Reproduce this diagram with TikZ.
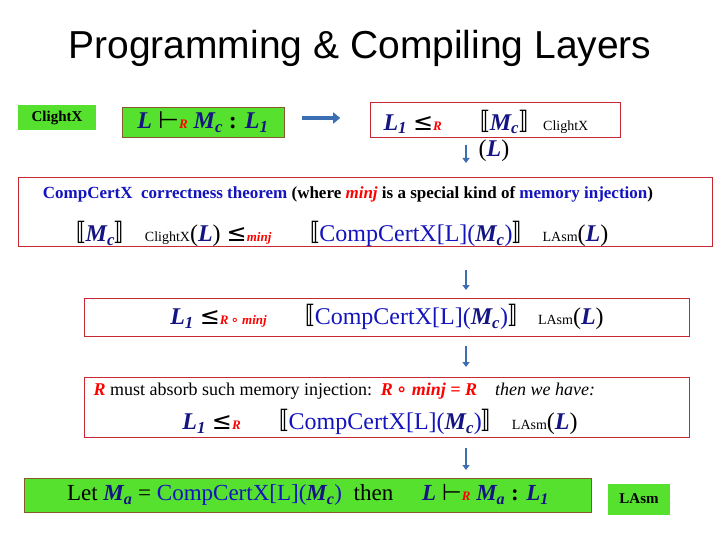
\documentclass[tikz,border=0pt]{standalone}
\usepackage{fontspec}
\setmainfont{Liberation Serif}
\newfontfamily\titlefont{Liberation Sans}
\newfontfamily\symfont{DejaVu Sans}
\newfontfamily\cjk{Noto Sans CJK SC}
\usetikzlibrary{positioning,arrows.meta}
\definecolor{navy}{RGB}{20,20,130}
\definecolor{ccblue}{RGB}{20,20,190}
\definecolor{boxred}{RGB}{200,40,50}
\definecolor{lgreen}{RGB}{85,225,45}
\definecolor{arrblue}{RGB}{60,110,180}
\newcommand{\mv}[1]{\textcolor{navy}{\textbf{\textit{#1}}}}
\newcommand{\rv}[1]{\textcolor{red}{\textbf{\textit{#1}}}}
\newcommand{\lb}{{\cjk 〚}}
\newcommand{\rb}{{\cjk 〛}}
\newcommand{\turn}{{\symfont ⊢}}
\newcommand{\leqs}{{\symfont ≤}}
\newcommand{\Mc}{\mv{M\textsubscript{c}}}
\newcommand{\Ma}{\mv{M\textsubscript{a}}}
\newcommand{\Lone}{\mv{L\textsubscript{1}}}
\newcommand{\cc}{\textcolor{ccblue}{CompCertX[L](}\Mc\textcolor{ccblue}{)}}
\tikzset{
    redbox/.style={draw=boxred, fill=white, inner sep=0pt},
    greenbox/.style={draw=brown!70!black, fill=lgreen, inner sep=0pt},
    tag/.style={fill=lgreen, inner sep=0pt, font=\fontsize{15}{15}\selectfont\bfseries},
    stepline/.style={arrblue, line width=2pt, -{Triangle[length=5pt,width=7pt]}},
}
\begin{document}
\begin{tikzpicture}[x=1pt,y=-1pt]
    \useasboundingbox (0,0) rectangle (720,540);
    \node (title) at (360,48) {\titlefont\fontsize{39}{39}\selectfont Programming \& Compiling Layers};
    % top row
    \node[tag, minimum width=78pt, minimum height=25pt] (clight) at (57,118) {ClightX};
    \node[greenbox, minimum width=162pt, minimum height=30pt] (judge) at (203,122)
        {\fontsize{24}{24}\selectfont\mv{L} \turn\rv{\fontsize{13}{13}\selectfont R} \Mc\ \textbf{:} \Lone};
    \node[redbox, minimum width=250pt, minimum height=35pt] (refine) at (495,120) {};
    \node[anchor=west] (refinetxt) at (380,122)
        {\fontsize{24}{24}\selectfont\Lone\ \leqs\rv{\fontsize{13}{13}\selectfont R}\quad \lb\Mc\rb {\fontsize{14}{14}\selectfont ClightX}};
    \node (paren1) at (494,151) {\fontsize{24}{24}\selectfont(\mv{L})};
    \coordinate (top1) at (466,145);
    \coordinate (bot1) at (466,163);
    \draw[arrblue, line width=3.5pt, -{Triangle[length=7pt,width=11pt]}] (judge.east) ++(18pt,4pt) coordinate (a0) -- ++(38pt,0) coordinate (a1);
    \draw[stepline, line width=1.5pt] (top1) -- (bot1);
    % theorem
    \node[redbox, minimum width=694pt, minimum height=69pt] (thm) at (365,212) {};
    \node (thmhead) at (348,194) {\fontsize{17}{17}\selectfont\bfseries
        \textcolor{ccblue}{CompCertX\ \ correctness theorem} (where \rv{minj} is a special kind of \textcolor{ccblue}{memory injection})};
    \node (thmbody) at (335,234) {\fontsize{24}{24}\selectfont
        \lb\Mc\rb\ {\fontsize{14}{14}\selectfont ClightX}(\mv{L}) \leqs\rv{\fontsize{13}{13}\selectfont minj}\quad \lb\cc\rb\ {\fontsize{14}{14}\selectfont LAsm}(\mv{L})};
    \coordinate (top2) at (466,270);
    \coordinate (bot2) at (466,290);
    \draw[stepline] (top2) -- (bot2);
    % composed
    \node[redbox, minimum width=605pt, minimum height=38pt] (comp) at (387,317)
        {\fontsize{24}{24}\selectfont\Lone\ \leqs\rv{\fontsize{13}{13}\selectfont R\,{\symfont∘} minj}\quad \lb\cc\rb\ {\fontsize{14}{14}\selectfont LAsm}(\mv{L})};
    \coordinate (top3) at (466,346);
    \coordinate (bot3) at (466,367);
    \draw[stepline] (top3) -- (bot3);
    % absorb
    \node[redbox, minimum width=605pt, minimum height=60pt] (absorb) at (387,407) {};
    \node[anchor=west] (absorbhead) at (90,391) {\fontsize{18}{18}\selectfont
        \rv{R} must absorb such memory injection:\ \ \rv{R\,{\symfont∘} minj = R}\quad \textit{then we have:}};
    \node (absorbbody) at (380,422) {\fontsize{24}{24}\selectfont
        \Lone\ \leqs\rv{\fontsize{13}{13}\selectfont R}\quad \lb\cc\rb\ {\fontsize{14}{14}\selectfont LAsm}(\mv{L})};
    \coordinate (top4) at (466,448);
    \coordinate (bot4) at (466,470);
    \draw[stepline] (top4) -- (bot4);
    % result
    \node[greenbox, minimum width=567pt, minimum height=34pt] (result) at (308,495)
        {\fontsize{23}{23}\selectfont Let \Ma\ = \cc\ \ then\quad\ \mv{L} \turn\rv{\fontsize{13}{13}\selectfont R} \Ma\ \textbf{:} \Lone};
    \node[tag, minimum width=62pt, minimum height=31pt] (lasm) at (639,499) {LAsm};
\end{tikzpicture}
\end{document}
